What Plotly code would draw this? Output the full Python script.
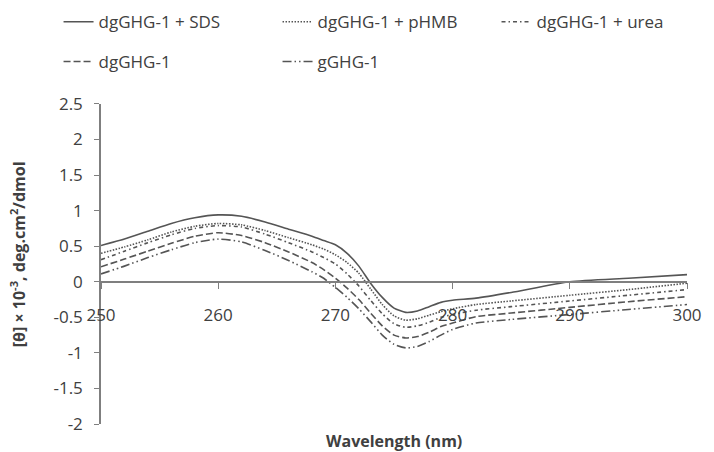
import plotly.graph_objects as go

# CD spectra: wavelength (nm) vs mean residue ellipticity [θ] × 10^-3
wavelength = [250, 252, 254, 256, 258, 260, 262, 264, 266, 268, 269, 270, 271,
               272, 273, 274, 275, 276, 277, 278, 279, 280, 282, 285, 290, 295, 300]

sds =   [0.51, 0.60, 0.71, 0.82, 0.90, 0.94, 0.92, 0.84, 0.74, 0.64, 0.58, 0.52, 0.40,
         0.22, -0.02, -0.22, -0.37, -0.43, -0.41, -0.35, -0.29, -0.26, -0.23, -0.15, 0.00, 0.05, 0.10]
phmb =  [0.40, 0.49, 0.59, 0.70, 0.78, 0.82, 0.80, 0.72, 0.62, 0.52, 0.46, 0.38, 0.27,
         0.12, -0.10, -0.32, -0.48, -0.54, -0.52, -0.47, -0.42, -0.38, -0.32, -0.27, -0.19, -0.11, -0.02]
urea =  [0.31, 0.43, 0.55, 0.66, 0.75, 0.79, 0.77, 0.67, 0.55, 0.42, 0.34, 0.25, 0.11,
         -0.06, -0.26, -0.45, -0.59, -0.64, -0.62, -0.57, -0.50, -0.46, -0.40, -0.35, -0.27, -0.19, -0.11]
dg =    [0.21, 0.32, 0.43, 0.54, 0.64, 0.69, 0.65, 0.55, 0.42, 0.27, 0.17, 0.05, -0.09,
         -0.25, -0.44, -0.62, -0.75, -0.79, -0.77, -0.71, -0.63, -0.58, -0.49, -0.44, -0.36, -0.28, -0.21]
g =     [0.11, 0.22, 0.34, 0.45, 0.55, 0.60, 0.56, 0.44, 0.30, 0.14, 0.05, -0.08, -0.22,
         -0.38, -0.56, -0.75, -0.88, -0.93, -0.91, -0.84, -0.75, -0.67, -0.58, -0.53, -0.46, -0.39, -0.32]

y_ticks = [2.5, 2, 1.5, 1, 0.5, 0, -0.5, -1, -1.5, -2]
y_tick_text = ["2.5", "2", "1.5", "1", "0.5", "0", "-0.5", "-1", "-1.5", "-2"]
x_ticks = [250, 260, 270, 280, 290, 300]

LINE = "#555555"
TEXT = "#404040"
FONT = "Open Sans"

# name, values, dash pattern, legend id, legend position (container x, y)
series = [
    ("dgGHG-1 + SDS", sds, "solid", "legend", 0.082, 0.951),
    ("dgGHG-1 + pHMB", phmb, "1.5px,1.5px", "legend2", 0.3887, 0.951),
    ("dgGHG-1 + urea", urea, "4px,3px,1.5px,3px", "legend3", 0.6954, 0.951),
    ("dgGHG-1", dg, "7px,3px", "legend4", 0.082, 0.863),
    ("gGHG-1", g, "9px,3px,1.5px,3px,1.5px,3px", "legend5", 0.3887, 0.863),
]

fig = go.Figure()
legends = {}
for name, vals, dash, leg, lx, ly in series:
    fig.add_trace(go.Scatter(
        x=wavelength, y=vals, name=name, mode="lines", showlegend=True,
        line=dict(color=LINE, width=1.6, dash=dash, shape="spline", smoothing=0.6),
        legend=leg,
    ))
    # legends in container coordinates so they do not push the plot margins
    legends[leg] = dict(
        orientation="h", xanchor="left", yanchor="middle",
        xref="container", yref="container", x=lx, y=ly,
        font=dict(family=FONT, size=17, color=TEXT),
        bgcolor="rgba(0,0,0,0)", itemwidth=30,
    )

y_min, y_max = -2, 2.5
zero_pos = (0 - y_min) / (y_max - y_min)

fig.update_layout(
    width=714, height=452,
    showlegend=True,
    margin=dict(l=101, r=19, t=100, b=28),
    paper_bgcolor="white", plot_bgcolor="white",
    font=dict(family=FONT, size=17, color=TEXT),
    **legends,
    xaxis=dict(
        range=[250, 300], tickvals=x_ticks, ticktext=[str(v) for v in x_ticks],
        anchor="free", position=zero_pos,
        showline=True, linecolor="#7f7f7f", linewidth=1.5,
        ticks="outside", ticklen=6, tickwidth=1.2, tickcolor="#7f7f7f",
        ticklabelstandoff=12, showgrid=False, zeroline=False,
        tickfont=dict(family=FONT, size=17, color=TEXT),
    ),
    yaxis=dict(
        range=[y_min, y_max], tickvals=y_ticks, ticktext=y_tick_text,
        showline=True, linecolor="#7f7f7f", linewidth=1.5,
        ticks="outside", ticklen=5, tickwidth=1.2, tickcolor="#7f7f7f",
        ticklabelstandoff=8, showgrid=False, zeroline=False,
        tickfont=dict(family=FONT, size=17, color=TEXT),
    ),
    annotations=[
        dict(text="<b>Wavelength (nm)</b>", xref="paper", yref="paper",
             x=0.5, y=-0.052, xanchor="center", yanchor="middle", showarrow=False,
             font=dict(family=FONT, size=16, color=TEXT)),
        dict(text="<b>[θ] × 10<sup>-3</sup>, deg.cm<sup>2</sup>/dmol</b>",
             xref="paper", yref="paper", x=-0.1414, y=0.531, textangle=-90,
             xanchor="center", yanchor="middle", showarrow=False,
             font=dict(family=FONT, size=16, color=TEXT)),
    ],
)

fig.write_html("out.html")
